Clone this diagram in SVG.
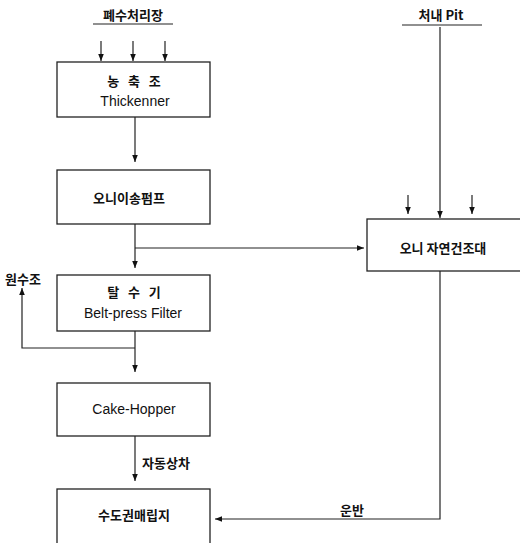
<svg xmlns="http://www.w3.org/2000/svg" width="520" height="543" viewBox="0 0 520 543">
<defs>
<marker id="ah" viewBox="0 0 10 10" refX="10" refY="5" markerWidth="7" markerHeight="7" markerUnits="userSpaceOnUse" orient="auto">
<path d="M0,1 L10,5 L0,9 Z" fill="#111"/>
</marker>
</defs>
<style>
.box{fill:#fff;stroke:#222;stroke-width:1.3}
.ln{fill:none;stroke:#222;stroke-width:1.2}
.ar{fill:none;stroke:#222;stroke-width:1.2;marker-end:url(#ah)}
.t{font-family:"Liberation Sans","Noto Sans CJK KR",sans-serif;font-size:14px;fill:#111;text-anchor:middle;dominant-baseline:central}
.k{font-family:"Noto Sans CJK KR","Liberation Sans",sans-serif;font-size:13px;font-weight:bold;fill:#111;text-anchor:middle;dominant-baseline:central}
</style>
<g id="src1">
<text class="k" x="133" y="14">폐수처리장</text>
<line class="ln" x1="93" y1="24" x2="173" y2="24"/>
</g>
<g id="src2">
<text class="k" x="441" y="14">처내 Pit</text>
<line class="ln" x1="402" y1="25" x2="482" y2="25"/>
</g>
<g id="thickener">
<rect class="box" x="57" y="62" width="153" height="55"/>
<text class="k" x="134" y="80" xml:space="preserve">농   축   조</text>
<text class="t" x="135" y="101">Thickenner</text>
</g>
<g id="pump">
<rect class="box" x="57" y="170" width="153" height="54"/>
<text class="k" x="129" y="197">오니이송펌프</text>
</g>
<g id="dryer">
<rect class="box" x="367" y="219" width="160" height="52"/>
<text class="k" x="443" y="247">오니 자연건조대</text>
</g>
<g id="filter">
<rect class="box" x="57" y="275" width="153" height="56"/>
<text class="k" x="134" y="291" xml:space="preserve">탈   수   기</text>
<text class="t" x="133" y="313">Belt-press Filter</text>
</g>
<g id="raw">
<text class="k" x="23" y="278">원수조</text>
</g>
<g id="hopper">
<rect class="box" x="57" y="383" width="153" height="53"/>
<text class="t" x="134" y="409">Cake-Hopper</text>
</g>
<g id="landfill">
<rect class="box" x="57" y="489" width="153" height="70"/>
<text class="k" x="134" y="514">수도권매립지</text>
</g>
<g id="connectors">
<line class="ar" x1="101" y1="41" x2="101" y2="61"/>
<line class="ar" x1="133" y1="41" x2="133" y2="61"/>
<line class="ar" x1="165" y1="41" x2="165" y2="61"/>
<line class="ar" x1="135" y1="117" x2="135" y2="162"/>
<line class="ar" x1="135" y1="224" x2="135" y2="268"/>
<line class="ar" x1="135" y1="248" x2="364" y2="248"/>
<line class="ar" x1="440" y1="27" x2="440" y2="218"/>
<line class="ar" x1="408" y1="195" x2="408" y2="214"/>
<line class="ar" x1="472" y1="195" x2="472" y2="214"/>
<line class="ar" x1="135" y1="331" x2="135" y2="372"/>
<polyline class="ar" points="135,348 22,348 22,288"/>
<line class="ar" x1="135" y1="436" x2="135" y2="481"/>
<text class="k" x="166" y="462">자동상차</text>
<polyline class="ar" points="440,271 440,519 215,519"/>
<text class="k" x="352" y="509">운반</text>
</g>
</svg>
